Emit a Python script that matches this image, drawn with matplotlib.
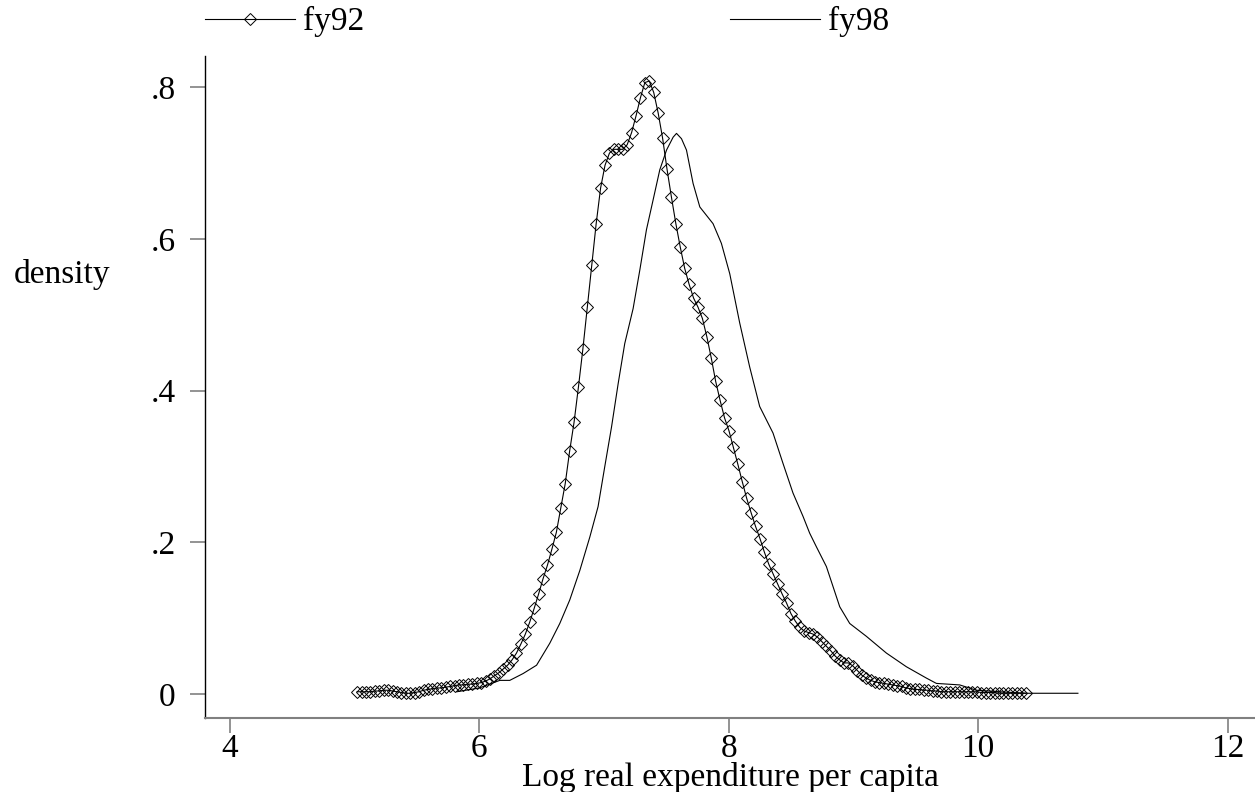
import numpy as np
import matplotlib
matplotlib.use("Agg")
import matplotlib.pyplot as plt

plt.rcParams['font.family'] = ['Liberation Serif', 'DejaVu Serif']

# fy92 kernel density, evaluated on an evenly spaced grid 5.02 .. 10.38
fy92_lo, fy92_hi = 5.02, 10.38
fy92_y = [
    0.003, 0.003, 0.003, 0.003, 0.004, 0.004, 0.005, 0.005, 0.004, 0.003,
    0.002, 0.001, 0.001, 0.002, 0.003, 0.005, 0.006, 0.007, 0.008, 0.008,
    0.009, 0.010, 0.011, 0.012, 0.012, 0.013, 0.013, 0.014, 0.015, 0.017,
    0.020, 0.024, 0.028, 0.033, 0.038, 0.045, 0.054, 0.066, 0.079, 0.095,
    0.113, 0.132, 0.152, 0.170, 0.191, 0.213, 0.245, 0.277, 0.320, 0.358,
    0.405, 0.455, 0.510, 0.566, 0.620, 0.667, 0.697, 0.713, 0.718, 0.718,
    0.718, 0.724, 0.740, 0.762, 0.786, 0.806, 0.808, 0.793, 0.766, 0.733,
    0.692, 0.655, 0.620, 0.589, 0.561, 0.540, 0.522, 0.510, 0.495, 0.471,
    0.443, 0.412, 0.387, 0.364, 0.347, 0.325, 0.303, 0.280, 0.258, 0.239,
    0.221, 0.205, 0.187, 0.171, 0.158, 0.145, 0.132, 0.120, 0.106, 0.096,
    0.088, 0.083, 0.081, 0.079, 0.075, 0.069, 0.063, 0.057, 0.050, 0.045,
    0.041, 0.041, 0.037, 0.031, 0.025, 0.021, 0.018, 0.016, 0.015, 0.014,
    0.013, 0.012, 0.011, 0.010, 0.008, 0.007, 0.006, 0.006, 0.005, 0.005,
    0.004, 0.004, 0.003, 0.003, 0.003, 0.003, 0.003, 0.003, 0.003, 0.003,
    0.003, 0.002, 0.002, 0.002, 0.002, 0.001, 0.001, 0.001, 0.001, 0.001,
    0.001, 0.001,
]
fy92_x = np.linspace(fy92_lo, fy92_hi, len(fy92_y))

# fy98 kernel density
fy98_x = [5.82, 6.00, 6.164, 6.244, 6.351, 6.459, 6.565, 6.645, 6.725, 6.806,
          6.886, 6.952, 7.006, 7.060, 7.113, 7.166, 7.233, 7.287, 7.340, 7.393,
          7.447, 7.501, 7.554, 7.581, 7.621, 7.661, 7.714, 7.768, 7.874, 7.941,
          8.008, 8.088, 8.168, 8.248, 8.355, 8.435, 8.515, 8.596, 8.649, 8.703,
          8.783, 8.890, 8.970, 9.104, 9.264, 9.424, 9.585, 9.665, 9.852, 9.986,
          10.172, 10.386, 10.80]
fy98_y = [0.003, 0.008, 0.018, 0.018, 0.027, 0.038, 0.067, 0.093, 0.124, 0.163,
          0.207, 0.247, 0.300, 0.352, 0.409, 0.462, 0.508, 0.559, 0.612, 0.651,
          0.691, 0.717, 0.734, 0.739, 0.732, 0.717, 0.673, 0.642, 0.620, 0.594,
          0.554, 0.489, 0.431, 0.379, 0.344, 0.304, 0.265, 0.234, 0.212, 0.194,
          0.168, 0.115, 0.093, 0.076, 0.054, 0.036, 0.021, 0.014, 0.012, 0.005,
          0.003, 0.001, 0.001]

x_ticks = [4, 6, 8, 10, 12]
y_ticks = [0, 0.2, 0.4, 0.6, 0.8]
y_tick_labels = ['0', '.2', '.4', '.6', '.8']

FS = 24

fig = plt.figure(figsize=(12.55, 7.92), dpi=100)
ax = fig.add_axes([205 / 1255, 74 / 792, 1 - 205 / 1255, (718 - 56) / 792])

ax.plot(fy92_x, fy92_y, color='black', lw=0.8, marker='D', ms=6,
        mfc='none', mec='black', mew=0.7, label='fy92')
ax.plot(fy98_x, fy98_y, color='black', lw=0.8, label='fy98')

ax.set_xlim(3.8, 12.22)
ax.set_ylim(-0.0316, 0.841)
ax.set_xticks(x_ticks)
ax.set_yticks(y_ticks)
ax.set_yticklabels(y_tick_labels)

for s in ['top', 'right']:
    ax.spines[s].set_visible(False)
ax.spines['left'].set_color('black')
ax.spines['left'].set_linewidth(1.0)
ax.spines['bottom'].set_color('0.5')
ax.spines['bottom'].set_linewidth(1.5)
ax.tick_params(axis='both', direction='out', length=11, width=1.2,
               color='0.5', labelsize=FS)
ax.tick_params(axis='x', pad=0)
ax.tick_params(axis='y', pad=10)

ax.set_xlabel('Log real expenditure per capita', fontsize=FS, labelpad=-1)
fig.text(62 / 1255, 1 - 275 / 792, 'density', fontsize=FS,
         ha='center', va='center')

ax.legend(loc='lower left', bbox_to_anchor=(0, 1.028), ncol=2, frameon=False,
          fontsize=FS, handlelength=2.7, handletextpad=0.25, numpoints=1,
          columnspacing=10.95, borderpad=0, borderaxespad=0)

fig.savefig('out.png', dpi=100)
